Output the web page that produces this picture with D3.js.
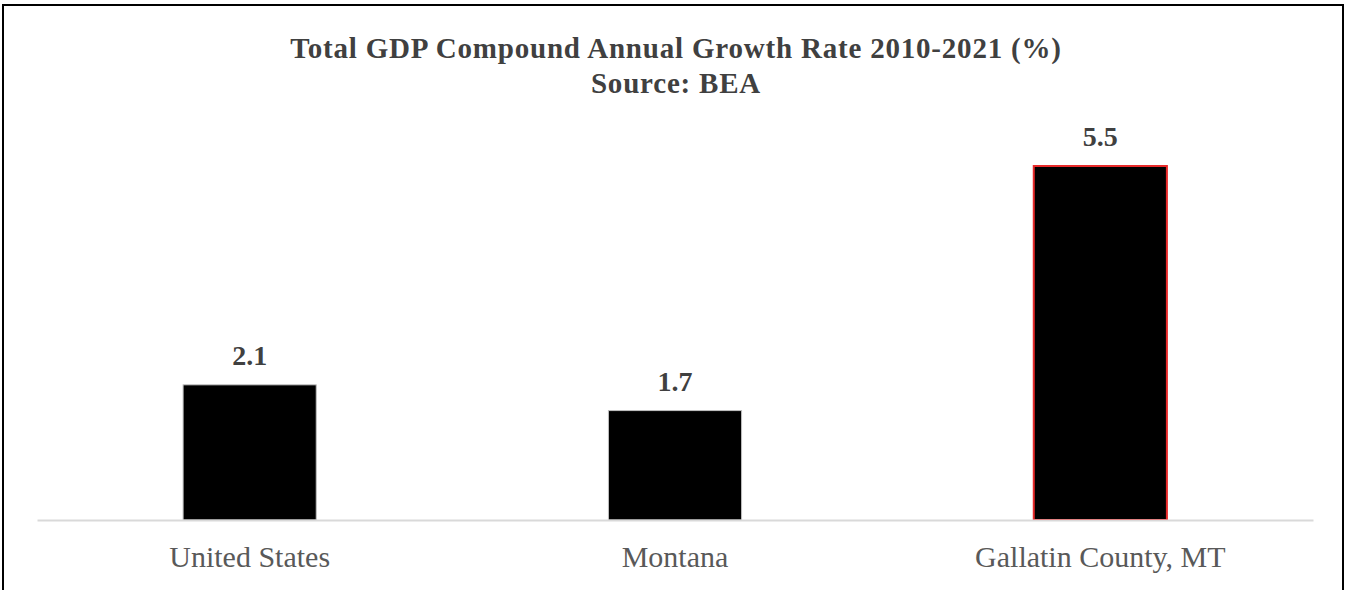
<!DOCTYPE html>
<html><head><meta charset="utf-8">
<script src="https://cdn.jsdelivr.net/npm/d3@7"></script>
<style>html,body{margin:0;padding:0;background:#fff;overflow:hidden}</style>
</head><body>
<svg id="chart" width="1348" height="590"></svg>
<script>
const categories = ["United States", "Montana", "Gallatin County, MT"];
const values = [2.1, 1.7, 5.5];
const highlight = [false, false, true];
const titleLines = ["Total GDP Compound Annual Growth Rate 2010-2021 (%)", "Source: BEA"];

const svg = d3.select("#chart");
const baseY = 520;

svg.append("rect").attr("x", 3).attr("y", 5).attr("width", 1340).attr("height", 600)
  .attr("fill", "#fff").attr("stroke", "#000").attr("stroke-width", 2);

const x = d3.scaleBand().domain(categories).range([37, 1313]).paddingInner(0.687).paddingOuter(0.3435);
const y = d3.scaleLinear().domain([0, 5.5]).range([baseY, 166]);

svg.append("g").selectAll("text").data(titleLines).join("text")
  .attr("x", 676).attr("y", (d, i) => 58 + i * 35)
  .attr("text-anchor", "middle")
  .attr("font-family", "Liberation Serif, serif").attr("font-weight", "bold")
  .attr("font-size", 29).attr("letter-spacing", 0.8).attr("fill", "#404040")
  .text(d => d);

svg.append("g").selectAll("rect").data(values).join("rect")
  .attr("x", (d, i) => x(categories[i]))
  .attr("y", d => y(d))
  .attr("width", x.bandwidth())
  .attr("height", d => baseY - y(d))
  .attr("fill", "#000")
  .attr("stroke", (d, i) => highlight[i] ? "#e82a2a" : "#bfbfbf")
  .attr("stroke-width", (d, i) => highlight[i] ? 2 : 1);

const xAxis = d3.axisBottom(x).tickSize(0).tickPadding(26);
const gx = svg.append("g").attr("transform", `translate(0,${baseY})`).call(xAxis);
gx.select(".domain").attr("stroke", "#d9d9d9").attr("stroke-width", 2);
gx.selectAll("text").attr("font-family", "Liberation Serif, serif").attr("font-size", 30).attr("fill", "#595959");

svg.append("g").selectAll("text").data(values).join("text")
  .attr("x", (d, i) => x(categories[i]) + x.bandwidth() / 2)
  .attr("y", d => y(d) - 20)
  .attr("text-anchor", "middle")
  .attr("font-family", "Liberation Serif, serif").attr("font-weight", "bold")
  .attr("font-size", 28).attr("fill", "#404040")
  .text(d => d.toFixed(1));
</script>
</body></html>
